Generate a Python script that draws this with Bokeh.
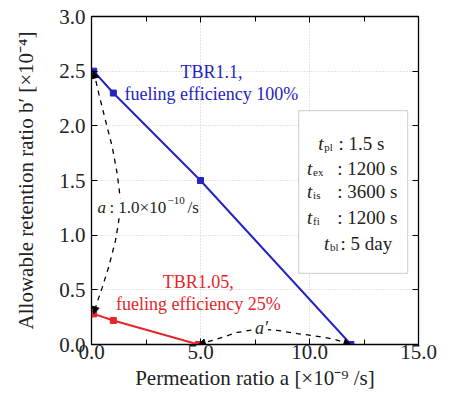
from bokeh.plotting import figure
from bokeh.models import (Range1d, LinearAxis, FixedTicker, NumeralTickFormatter,
                          Label, Arrow, NormalHead, BoxAnnotation)
from bokeh.embed import file_html
from bokeh.resources import INLINE

FONT = "Liberation Serif"
LFONT = "'Liberation Serif'"

# ---- data ----
blue_x = [0.1, 1.0, 5.0, 11.9]
blue_y = [2.5, 2.3, 1.5, 0.0]
red_x = [0.1, 1.0, 4.9]
red_y = [0.28, 0.22, 0.0]
a_curve_x = [0.1, 0.34, 0.64, 0.95, 1.18, 1.33, 1.25, 1.1, 0.79, 0.49, 0.25, 0.1]
a_curve_y = [2.5, 2.29, 2.05, 1.81, 1.56, 1.32, 1.13, 0.95, 0.71, 0.52, 0.38, 0.28]
a2_curve_x = [4.9, 5.76, 6.68, 7.6, 8.5, 9.44, 10.2, 11.1, 11.9]
a2_curve_y = [0.0, 0.05, 0.11, 0.14, 0.13, 0.10, 0.08, 0.05, 0.0]
x_ticks = [0, 5, 10, 15]
x_minor = [2.5, 7.5, 12.5]
y_ticks = [0.0, 0.5, 1.0, 1.5, 2.0, 2.5, 3.0]
box_rows = [("pl", ": 1.5 s"), ("ex", ": 1200 s"), ("is", ": 3600 s"),
            ("fi", ": 1200 s"), ("bl", ": 5 day")]

BLUE = "#2424c0"
RED = "#e3262b"
TXT = "#222222"

p = figure(width=440, height=395, x_range=Range1d(0, 15), y_range=Range1d(0, 3),
           output_backend="svg", toolbar_location=None,
           min_border_left=91, min_border_right=22, min_border_top=16,
           min_border_bottom=51)
p.background_fill_color = "white"
p.border_fill_color = "white"
p.outline_line_color = "black"
p.outline_line_width = 1.3

xt = FixedTicker(ticks=x_ticks, minor_ticks=x_minor)
yt = FixedTicker(ticks=y_ticks)

for ax in (p.xaxis[0], p.yaxis[0]):
    ax.major_tick_in = 6
    ax.major_tick_out = 0
    ax.minor_tick_in = 5
    ax.minor_tick_out = 0
    ax.axis_line_color = "black"
    ax.major_label_text_font = FONT
    ax.major_label_text_font_size = "21px"
    ax.major_label_text_color = TXT
    ax.axis_label_text_font = FONT
    ax.axis_label_text_font_size = "21px"
    ax.axis_label_text_font_style = "normal"
    ax.axis_label_text_color = TXT
    ax.formatter = NumeralTickFormatter(format="0.0")

p.xaxis[0].ticker = xt
p.yaxis[0].ticker = yt
p.xaxis[0].major_label_standoff = 0
p.xaxis[0].axis_label_standoff = 4
p.yaxis[0].major_label_standoff = 6
p.yaxis[0].axis_label_standoff = 18
p.xaxis[0].axis_label = "Permeation ratio a [×10⁻⁹ /s]"
p.yaxis[0].axis_label = "Allowable retention ratio b′ [×10⁻⁴]"

top = LinearAxis(ticker=xt, axis_line_color=None,
                 major_label_overrides={t: "" for t in x_ticks},
                 major_tick_in=6, major_tick_out=0, minor_tick_in=5, minor_tick_out=0)
right = LinearAxis(ticker=yt, axis_line_color=None,
                   major_label_overrides={t: "" for t in y_ticks},
                   major_tick_in=6, major_tick_out=0, minor_tick_in=0, minor_tick_out=0)
p.add_layout(top, "above")
p.add_layout(right, "right")

p.xgrid.ticker = xt
p.ygrid.ticker = yt
for g in (p.xgrid, p.ygrid):
    g.grid_line_color = "#c8c8c8"
    g.grid_line_dash = "1 2"
    g.grid_line_width = 1

# main series
p.line(blue_x, blue_y, line_color=BLUE, line_width=2)
p.scatter(blue_x, blue_y, marker="square", size=6, color=BLUE)
p.line(red_x, red_y, line_color=RED, line_width=2)
p.scatter(red_x, red_y, marker="square", size=6, color=RED)

# dashed guide curves
p.line(a_curve_x, a_curve_y, line_color="black", line_width=1.3, line_dash="5 5")
p.line(a2_curve_x, a2_curve_y, line_color="black", line_width=1.3, line_dash="5 5")

def head(xs, ys, i_from, i_to):
    p.add_layout(Arrow(end=NormalHead(size=7, fill_color="black", line_color="black"),
                       x_start=xs[i_from], y_start=ys[i_from],
                       x_end=xs[i_to], y_end=ys[i_to], line_alpha=0))

head(a_curve_x, a_curve_y, 1, 0)
head(a_curve_x, a_curve_y, -2, -1)
head(a2_curve_x, a2_curve_y, 1, 0)
head(a2_curve_x, a2_curve_y, -2, -1)

# annotations
def lab(x, y, text, color=TXT, size="18px", style="normal", align="left",
        baseline="middle", bg=None, xo=0, yo=0):
    kw = dict(x=x, y=y, text=text, text_color=color, text_font=LFONT,
              text_font_size=size, text_font_style=style, text_align=align,
              text_baseline=baseline, x_offset=xo, y_offset=yo)
    if bg:
        kw["background_fill_color"] = bg
    p.add_layout(Label(**kw))

lab(5.5, 2.49, "TBR1.1,", color=BLUE, align="center")
lab(5.5, 2.29, "fueling efficiency 100%", color=BLUE, align="center")
lab(4.9, 0.57, "TBR1.05,", color=RED, align="center")
lab(4.9, 0.375, "fueling efficiency 25%", color=RED, align="center")

# "a : 1.0x10^-10 /s" built from pieces
lab(0.28, 1.25, "a\u00a0:\u00a01.0×10\u00a0\u00a0\u00a0\u00a0\u00a0/s", size="17px", bg="white")
lab(0.28, 1.25, "a", style="italic", size="17px", bg="white")
lab(0.28, 1.25, "\u221210", size="11px", xo=70, yo=7)
lab(7.5, 0.15, "a′", style="italic", size="18px", bg="white")

# parameter box
p.add_layout(BoxAnnotation(left=9.5, right=14.5, bottom=0.65, top=2.14,
                           fill_color="white", fill_alpha=1.0,
                           line_color="#777777", line_width=1.2))
row_y = [1.84, 1.61, 1.40, 1.165, 0.925]
row_tx = [10.4, 9.89, 9.89, 9.89, 10.66]
row_cx = [11.33, 11.27, 11.27, 11.27, 11.42]
for (sub, val), yy, tx, cx in zip(box_rows, row_y, row_tx, row_cx):
    lab(tx, yy, "t", style="italic", size="19px")
    lab(tx, yy, sub, size="11px", xo=6, yo=-4)
    lab(cx, yy, val, size="19px")

open("out.html", "w").write(file_html(p, INLINE))
